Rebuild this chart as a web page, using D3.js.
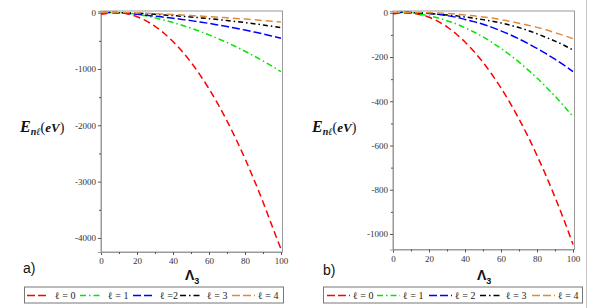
<!DOCTYPE html>
<html><head><meta charset="utf-8">
<script src="https://cdn.jsdelivr.net/npm/d3@7"></script>
<style>body{margin:0;background:#fff}svg{display:block}</style>
</head><body>
<svg id="c" width="589" height="308"></svg>
<script>
// Λ3 sample points
const lambda = [0,5,10,15,20,25,30,35,40,45,50,55,60,65,70,75,80,85,90,95,100];
// panel a) energies (eV)
const aL0 = [-30,-5,0,-25,-72,-145,-242,-365,-512,-685,-882,-1105,-1352,-1625,-1922,-2245,-2592,-2965,-3362,-3785,-4200];
const aL1 = [-3,2,1,-8,-26,-56,-92,-131,-175,-223,-275,-332,-394,-460,-530,-605,-685,-769,-857,-950,-1048];
const aL2 = [-2,2,0,-12,-28,-44,-61,-80,-99,-119,-141,-165,-190,-218,-246,-277,-309,-343,-378,-416,-455];
const aL3 = [0,2,1,-4,-10,-19,-29,-40,-52,-64,-77,-91,-106,-122,-139,-157,-176,-196,-218,-241,-266];
const aL4 = [-2,3,3,0,-5,-11,-18,-26,-34,-42,-51,-60,-70,-80,-91,-102,-114,-126,-139,-152,-166];
// panel b) energies (eV)
const bL0 = [-6,0,-1,-8,-20,-39,-64,-95,-132,-175,-224,-279,-340,-407,-480,-559,-645,-736,-834,-937,-1047];
const bL1 = [-1,1,0,-7,-14,-24,-36,-50,-68,-87,-109,-134,-161,-191,-223,-258,-295,-335,-377,-422,-469];
const bL2 = [-2,1,1,-1,-3,-7,-13,-20,-30,-40,-52,-66,-82,-99,-118,-139,-161,-185,-210,-237,-266];
const bL3 = [0,2,1,-1,-3,-6,-10,-14,-19,-25,-31,-38,-46,-56,-67,-80,-95,-111,-128,-147,-168];
const bL4 = [0,2,2,1,0,-1,-3,-6,-10,-14,-19,-24,-31,-39,-47,-56,-66,-77,-90,-103,-117];
// tick labels
const xTicks = [0,20,40,60,80,100];
const xMinor = [10,30,50,70,90];
const aYTicks = [0,-1000,-2000,-3000,-4000];
const aYMinor = [-500,-1500,-2500,-3500];
const bYTicks = [0,-200,-400,-600,-800,-1000];
const bYMinor = [-100,-300,-500,-700,-900];
const legendLabelsA = ["ℓ = 0","ℓ = 1","ℓ =2","ℓ = 3","ℓ = 4"];
const legendLabelsB = ["ℓ = 0","ℓ = 1","ℓ = 2","ℓ = 3","ℓ = 4"];

const colors = ["#ff0000","#00e600","#0000ff","#000000","#e08a3c"];
const dashes = ["7,4","6,3,1.5,3","8,3","5,3,1.5,3","7,4"];

const svg = d3.select("#c");

function panel(cfg){
  const x = d3.scaleLinear().domain([0,100]).range(cfg.xr);
  const y = d3.scaleLinear().domain(cfg.yd).range([cfg.bottom, cfg.top]);
  const g = svg.append("g");
  g.append("rect").attr("x",cfg.xr[0]).attr("y",cfg.top)
    .attr("width",cfg.boxRight-cfg.xr[0]).attr("height",cfg.bottom-cfg.top)
    .attr("fill","none").attr("stroke","#9a9a9a").attr("stroke-width",1);
  g.append("g").attr("transform",`translate(0,${cfg.bottom})`)
    .call(d3.axisBottom(x).tickValues(xTicks).tickSize(3).tickPadding(3).tickFormat(d3.format("d")));
  g.append("g").attr("transform",`translate(0,${cfg.bottom})`)
    .call(d3.axisBottom(x).tickValues(xMinor).tickSize(2).tickFormat(""))
    .call(s=>s.select(".domain").remove());
  g.append("g").attr("transform",`translate(${cfg.xr[0]},0)`)
    .call(d3.axisLeft(y).tickValues(cfg.yTicks).tickSize(3).tickPadding(2).tickFormat(d=>d===0?"0":"-"+Math.abs(d)));
  g.append("g").attr("transform",`translate(${cfg.xr[0]},0)`)
    .call(d3.axisLeft(y).tickValues(cfg.yMinor).tickSize(2).tickFormat(""))
    .call(s=>s.select(".domain").remove());
  g.selectAll(".domain").attr("stroke","#9a9a9a");
  g.selectAll(".tick line").attr("stroke","#555");
  g.selectAll(".tick text").attr("font-family","Liberation Serif").attr("font-size","9px").attr("fill","#333");
  const line = d3.line().x((d,i)=>x(lambda[i])).y(d=>y(d)).curve(d3.curveMonotoneX);
  cfg.series.forEach((s,i)=>{
    g.append("path").attr("d",line(s)).attr("fill","none")
      .attr("stroke",colors[i]).attr("stroke-width",1.5)
      .attr("stroke-dasharray",dashes[i]);
  });
  const t = g.append("text").attr("x",cfg.ylabX).attr("y",132)
    .attr("font-family","Liberation Serif").attr("fill","#111");
  t.append("tspan").text("E").attr("font-size","16px").attr("font-weight","bold").attr("font-style","italic");
  t.append("tspan").text("nℓ").attr("font-size","10px").attr("font-weight","bold").attr("font-style","italic").attr("dy",3);
  t.append("tspan").text("(").attr("font-size","14px").attr("dy",-3);
  t.append("tspan").text("eV").attr("font-size","13px").attr("font-weight","bold").attr("font-style","italic");
  t.append("tspan").text(")").attr("font-size","14px");
  const xl = g.append("text").attr("x",cfg.xlabX).attr("y",280)
    .attr("font-family","Liberation Sans").attr("fill","#111");
  xl.append("tspan").text("Λ").attr("font-size","14px").attr("font-weight","bold");
  xl.append("tspan").text("3").attr("font-size","9px").attr("font-weight","bold").attr("dy",4);
  g.append("text").attr("x",cfg.letX).attr("y",cfg.letY).text(cfg.letter)
    .attr("font-family","Liberation Sans").attr("font-size","14px").attr("fill","#111");
  const L = cfg.legend;
  g.append("rect").attr("x",L.x).attr("y",287).attr("width",L.w).attr("height",16)
    .attr("fill","#fff").attr("stroke","#777").attr("stroke-width",1);
  L.items.forEach((it,i)=>{
    g.append("line").attr("x1",it[0]).attr("x2",it[1]).attr("y1",295.5).attr("y2",295.5)
      .attr("stroke",colors[i]).attr("stroke-width",1.6).attr("stroke-dasharray",i===1||i===3?"6,3,1.5,3":"8,3");
    g.append("text").attr("x",it[2]).attr("y",299).text(L.labels[i])
      .attr("font-family","Liberation Serif").attr("font-size","10px").attr("fill","#222");
  });
}

panel({xr:[101,281], boxRight:282.5, top:11, bottom:252, yd:[-4250,30],
  yTicks:aYTicks, yMinor:aYMinor, series:[aL0,aL1,aL2,aL3,aL4],
  ylabX:20, xlabX:185, letX:23, letY:273, letter:"a)",
  legend:{x:24.5, w:259, labels:legendLabelsA,
    items:[[27,49,55],[80,102,108],[133,155,160],[180,201,207],[232,255,258]]}});

panel({xr:[393,573], boxRight:574.5, top:11, bottom:249.5, yd:[-1070,8],
  yTicks:bYTicks, yMinor:bYMinor, series:[bL0,bL1,bL2,bL3,bL4],
  ylabX:312, xlabX:477, letX:323, letY:275, letter:"b)",
  legend:{x:323.5, w:259, labels:legendLabelsB,
    items:[[327,350,353],[377,400,403],[429,452,455],[480,502,506],[532,555,558]]}});

svg.append("line").attr("x1",586.5).attr("x2",586.5).attr("y1",0).attr("y2",308)
  .attr("stroke","#c8c8c8").attr("stroke-width",1);
</script>
</body></html>
